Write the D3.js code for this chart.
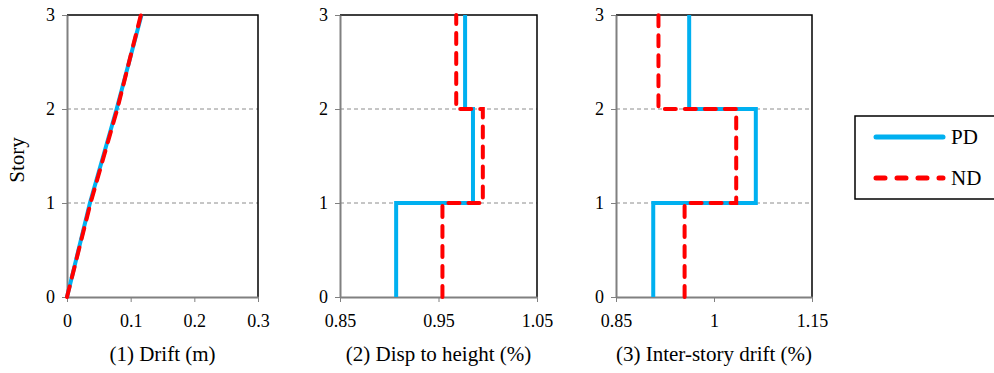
<!DOCTYPE html>
<html>
<head>
<meta charset="utf-8">
<script src="https://cdn.jsdelivr.net/npm/d3@7"></script>
<style>
  html, body { margin: 0; padding: 0; background: #fff; }
  svg { display: block; }
</style>
</head>
<body>
<svg id="chart" width="994" height="373"></svg>
<script>
// ---- data ----
const stories = [0, 1, 2, 3];
const storyTicks = [0, 1, 2, 3];

// Panel 1: drift (m) at each floor level
const driftPD = [0, 0.036, 0.078, 0.117];
const driftND = [0, 0.037, 0.079, 0.116];
const driftTicks = [0, 0.1, 0.2, 0.3];
const driftTickLabels = ["0", "0.1", "0.2", "0.3"];

// Panel 2: displacement to height (%) for each story segment (0-1, 1-2, 2-3)
const dispPD = [0.907, 0.985, 0.977];
const dispND = [0.954, 0.995, 0.968];
const dispTicks = [0.85, 0.95, 1.05];
const dispTickLabels = ["0.85", "0.95", "1.05"];

// Panel 3: inter-story drift (%) for each story segment
const interPD = [0.907, 1.064, 0.962];
const interND = [0.955, 1.034, 0.915];
const interTicks = [0.85, 1.0, 1.15];
const interTickLabels = ["0.85", "1", "1.15"];

const seriesNames = ["PD", "ND"];
const seriesColors = { PD: "#00B0F0", ND: "#FF0000" };

const FONT = "Liberation Serif";

// ---- helpers ----
function stepPoints(vals) {
  const pts = [];
  vals.forEach((v, i) => { pts.push([v, stories[i]]); pts.push([v, stories[i + 1]]); });
  return pts;
}
function linePoints(vals) { return vals.map((v, i) => [v, stories[i]]); }

const svg = d3.select("#chart");
const plotTop = 15, plotBottom = 297;

const panels = [
  { x0: 67, x1: 258, domain: [0, 0.3], ticks: driftTicks, labels: driftTickLabels,
    pd: linePoints(driftPD), nd: linePoints(driftND), title: "(1) Drift (m)" },
  { x0: 340, x1: 537, domain: [0.85, 1.05], ticks: dispTicks, labels: dispTickLabels,
    pd: stepPoints(dispPD), nd: stepPoints(dispND), title: "(2) Disp to height (%)" },
  { x0: 616, x1: 812, domain: [0.85, 1.15], ticks: interTicks, labels: interTickLabels,
    pd: stepPoints(interPD), nd: stepPoints(interND), title: "(3) Inter-story drift (%)" }
];

const y = d3.scaleLinear().domain([0, 3]).range([plotBottom, plotTop]);

panels.forEach(p => {
  const x = d3.scaleLinear().domain(p.domain).range([p.x0, p.x1]);
  const g = svg.append("g");

  g.selectAll("line.grid").data([1, 2]).enter().append("line")
    .attr("class", "grid")
    .attr("x1", p.x0).attr("x2", p.x1)
    .attr("y1", d => y(d)).attr("y2", d => y(d))
    .attr("stroke", "#8c8c8c").attr("stroke-width", 1)
    .attr("stroke-dasharray", "4,3");

  g.append("path")
    .attr("d", `M${p.x0},${plotTop}H${p.x1}V${plotBottom}`)
    .attr("fill", "none").attr("stroke", "#000").attr("stroke-width", 1.5);

  const xa = g.append("g").attr("transform", `translate(0,${plotBottom})`)
    .call(d3.axisBottom(x).tickValues(p.ticks)
      .tickFormat((d, i) => p.labels[i]).tickSize(5).tickPadding(12).tickSizeOuter(0));
  xa.attr("font-family", FONT).attr("font-size", 18);
  xa.select(".domain").attr("stroke", "#808080").attr("stroke-width", 2);
  xa.selectAll(".tick line").attr("stroke", "#808080").attr("stroke-width", 1);
  xa.selectAll("text").style("font-family", FONT).style("font-size", "18px").attr("fill", "#000");

  const ya = g.append("g").attr("transform", `translate(${p.x0},0)`)
    .call(d3.axisLeft(y).tickValues(storyTicks).tickFormat(d3.format("d"))
      .tickSize(5).tickPadding(7).tickSizeOuter(0));
  ya.attr("font-family", FONT).attr("font-size", 18);
  ya.select(".domain").attr("stroke", "#808080").attr("stroke-width", 2);
  ya.selectAll(".tick line").attr("stroke", "#808080").attr("stroke-width", 1);
  ya.selectAll("text").style("font-family", FONT).style("font-size", "18px").attr("fill", "#000");

  const line = d3.line().x(d => x(d[0])).y(d => y(d[1]));

  g.append("path").attr("d", line(p.pd))
    .attr("fill", "none").attr("stroke", seriesColors.PD).attr("stroke-width", 4)
    .attr("stroke-linejoin", "miter");
  g.append("path").attr("d", line(p.nd))
    .attr("fill", "none").attr("stroke", seriesColors.ND).attr("stroke-width", 4)
    .attr("stroke-dasharray", "11,9").attr("stroke-linecap", "round");

  g.append("text")
    .attr("x", (p.x0 + p.x1) / 2).attr("y", 361)
    .attr("text-anchor", "middle")
    .style("font-family", FONT).style("font-size", "21px")
    .text(p.title);
});

svg.append("text")
  .attr("transform", "translate(24,160) rotate(-90)")
  .attr("text-anchor", "middle")
  .style("font-family", FONT).style("font-size", "21px")
  .text("Story");

const lg = svg.append("g");
lg.append("rect").attr("x", 855).attr("y", 116).attr("width", 140).attr("height", 83)
  .attr("fill", "#fff").attr("stroke", "#000").attr("stroke-width", 1.5);
const legendY = { PD: 137, ND: 178 };
seriesNames.forEach(name => {
  lg.append("line").attr("x1", 876).attr("x2", 943)
    .attr("y1", legendY[name]).attr("y2", legendY[name])
    .attr("stroke", seriesColors[name]).attr("stroke-width", 5)
    .attr("stroke-linecap", "round")
    .attr("stroke-dasharray", name === "ND" ? "9,12" : null);
  lg.append("text").attr("x", 951).attr("y", legendY[name] + 7)
    .style("font-family", FONT).style("font-size", "21px")
    .text(name);
});
</script>
</body>
</html>
